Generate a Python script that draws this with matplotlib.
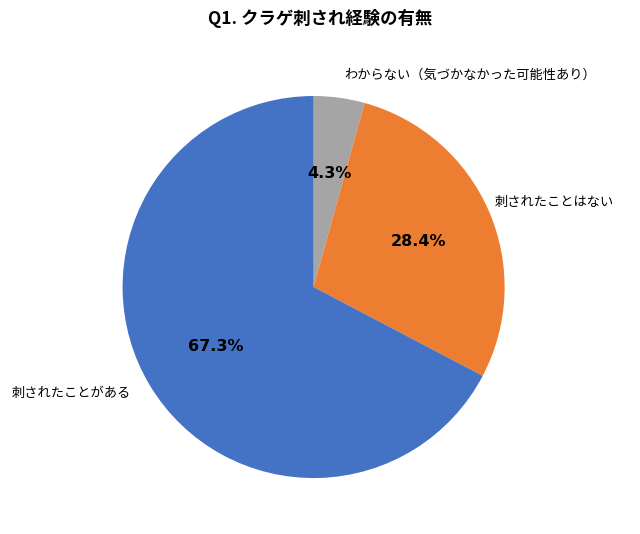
import matplotlib
matplotlib.use("Agg")
import matplotlib.pyplot as plt

plt.rcParams['font.family'] = ['Noto Sans CJK JP', 'DejaVu Sans']

categories = ["わからない（気づかなかった可能性あり）", "刺されたことはない", "刺されたことがある"]
values = [4.3, 28.4, 67.3]
colors = ["#a5a5a5", "#ed7d31", "#4472c4"]
label_pos = [(0.82, 1.11), (1.26, 0.44), (-1.27, -0.555)]

fig = plt.figure(figsize=(6.4, 5.34), dpi=100)
ax = fig.add_axes([0.49 - 0.2985, 0.4625 - 0.3577, 0.597, 0.7154])
wedges, texts, autotexts = ax.pie(values, labels=categories, colors=colors, startangle=90,
                                  counterclock=False, autopct='%1.1f%%', pctdistance=0.6,
                                  wedgeprops=dict(linewidth=0),
                                  textprops=dict(fontsize=9.5))
for t, p in zip(texts, label_pos):
    t.set_position(p)
    t.set_ha('center')
    t.set_va('center')
    t.set_clip_on(False)
for a in autotexts:
    a.set_fontsize(11.5)
    a.set_fontweight('bold')
    a.set_family(['DejaVu Sans'])
ax.set_xlim(-1, 1)
ax.set_ylim(-1, 1)
ax.set_aspect('equal')
fig.text(0.5, 0.965, "Q1. クラゲ刺され経験の有無", ha='center', va='center', fontsize=12.5, fontweight='bold')
fig.savefig("out.png", dpi=100)
